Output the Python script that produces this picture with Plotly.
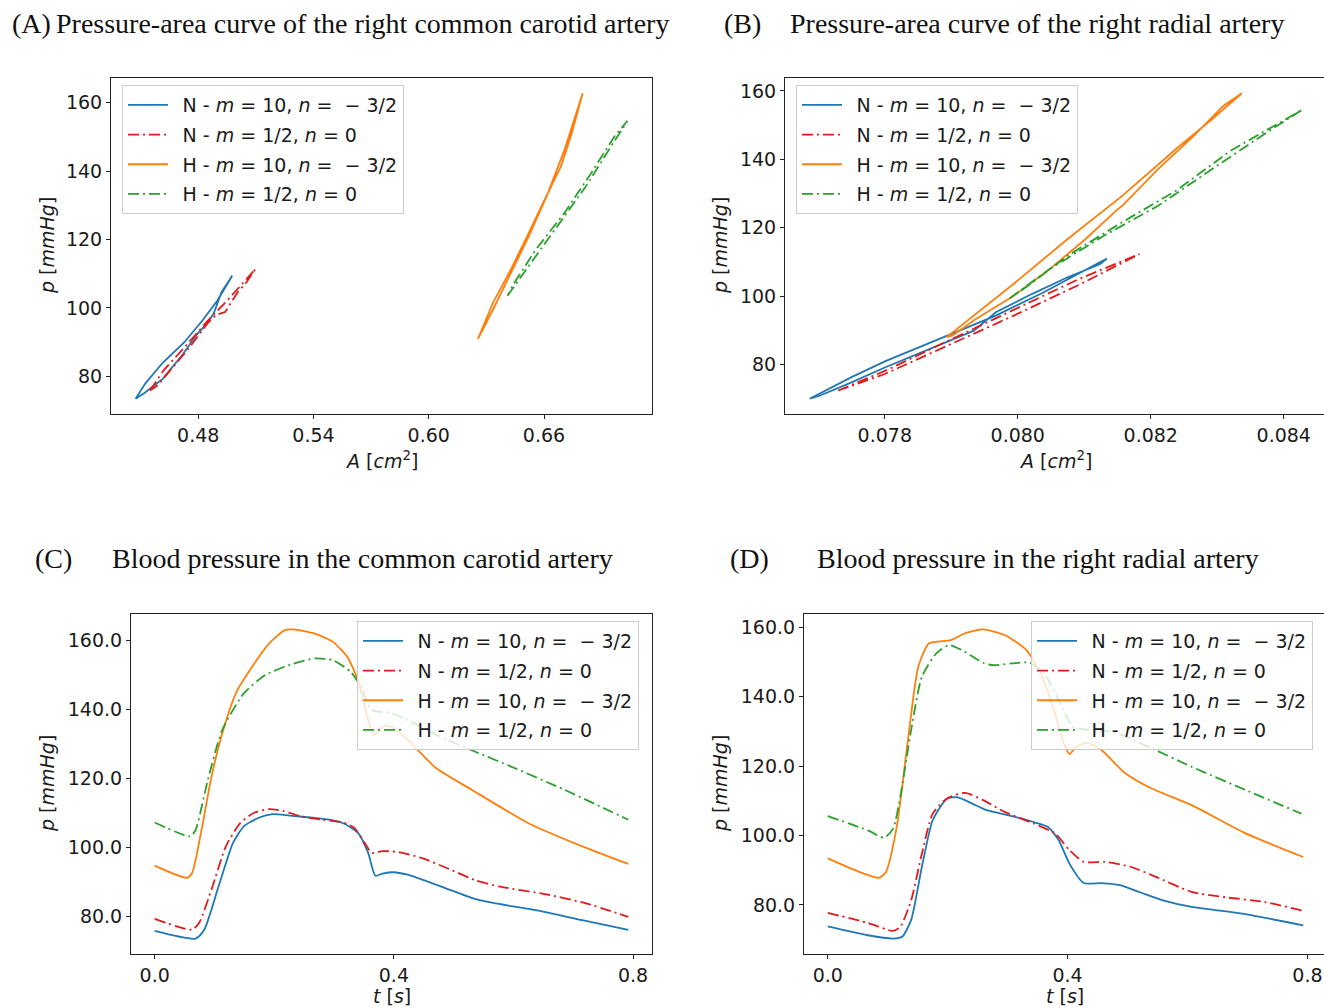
import plotly.graph_objects as go

OFF = 0
FW, FH = 1324, 1008

# ---------------- Panel C: carotid pressure vs time ----------------
c_blue_t = [0.0, 0.0685, 0.083, 0.107, 0.131, 0.149, 0.173, 0.197, 0.226, 0.268, 0.292, 0.316, 0.34, 0.357, 0.369, 0.381, 0.399, 0.423, 0.477, 0.53, 0.566, 0.637, 0.715, 0.792]
c_blue_p = [75.8, 73.6, 76.2, 88.8, 101.3, 106.1, 108.5, 109.6, 109.2, 108.5, 108.0, 106.9, 104.2, 98.4, 91.8, 92.4, 92.8, 92.1, 88.8, 85.4, 83.9, 81.8, 78.9, 76.1]

c_red_t = [0.0, 0.0625, 0.0745, 0.095, 0.119, 0.143, 0.167, 0.191, 0.214, 0.244, 0.28, 0.316, 0.334, 0.351, 0.363, 0.381, 0.405, 0.447, 0.494, 0.536, 0.578, 0.655, 0.721, 0.792]
c_red_p = [79.3, 76.2, 78.2, 87.8, 100.3, 107.0, 110.1, 111.1, 110.6, 109.0, 108.0, 107.2, 105.6, 101.3, 98.4, 98.9, 98.7, 96.9, 93.6, 90.5, 88.6, 86.4, 83.8, 79.9]

c_orange_t = [0.0, 0.0536, 0.0625, 0.0774, 0.095, 0.113, 0.137, 0.161, 0.191, 0.2174, 0.232, 0.268, 0.298, 0.322, 0.34, 0.354, 0.366, 0.381, 0.393, 0.417, 0.471, 0.53, 0.625, 0.715, 0.792]
c_orange_p = [94.7, 91.2, 92.6, 104.2, 120.5, 133.0, 145.1, 151.8, 159.0, 162.9, 163.1, 161.9, 159.5, 155.2, 148.4, 138.8, 132.6, 135.0, 135.1, 132.1, 122.9, 116.7, 107.0, 100.3, 95.2]

c_green_t = [0.0, 0.0596, 0.0685, 0.089, 0.113, 0.149, 0.185, 0.232, 0.268, 0.298, 0.328, 0.345, 0.363, 0.393, 0.423, 0.477, 0.536, 0.596, 0.685, 0.792]
c_green_p = [107.2, 103.2, 105.1, 119.6, 134.0, 144.6, 149.9, 153.2, 154.7, 154.2, 150.8, 146.5, 139.8, 139.0, 136.9, 132.1, 127.7, 123.4, 116.7, 108.0]

# ---------------- Panel D: radial pressure vs time ----------------
d_blue_t = [0.0, 0.067, 0.109, 0.124, 0.139, 0.157, 0.175, 0.199, 0.217, 0.241, 0.265, 0.307, 0.343, 0.367, 0.385, 0.403, 0.427, 0.457, 0.487, 0.523, 0.559, 0.607, 0.691, 0.793]
d_blue_p = [73.8, 71.25, 70.3, 70.8, 75.6, 91.0, 104.4, 110.7, 111.0, 109.2, 107.3, 105.6, 103.9, 102.5, 98.7, 91.9, 86.3, 86.3, 85.7, 83.5, 81.3, 79.4, 77.5, 74.1]

d_red_t = [0.0, 0.067, 0.109, 0.121, 0.139, 0.157, 0.175, 0.199, 0.229, 0.259, 0.295, 0.343, 0.379, 0.403, 0.427, 0.463, 0.505, 0.547, 0.607, 0.667, 0.727, 0.793]
d_red_p = [77.7, 74.8, 72.5, 73.7, 81.3, 94.8, 106.3, 110.7, 112.3, 110.2, 106.8, 103.5, 100.6, 95.8, 92.4, 92.4, 91.0, 88.1, 83.75, 82.1, 80.9, 78.3]

d_orange_t = [0.0, 0.085, 0.097, 0.115, 0.133, 0.151, 0.169, 0.205, 0.229, 0.259, 0.295, 0.331, 0.355, 0.379, 0.394, 0.403, 0.415, 0.433, 0.457, 0.493, 0.535, 0.607, 0.697, 0.793]
d_orange_p = [93.4, 87.8, 89.5, 102.5, 126.5, 148.7, 155.4, 156.3, 158.3, 159.4, 157.8, 153.5, 146.7, 135.2, 126.5, 123.5, 125.6, 126.7, 124.6, 118.4, 114.0, 108.75, 100.6, 93.8]

d_green_t = [0.0, 0.067, 0.094, 0.109, 0.121, 0.139, 0.157, 0.181, 0.202, 0.223, 0.259, 0.277, 0.307, 0.337, 0.361, 0.385, 0.409, 0.439, 0.475, 0.547, 0.607, 0.697, 0.79]
d_green_p = [105.6, 101.5, 99.4, 102.0, 111.2, 130.4, 145.8, 152.5, 154.9, 153.5, 149.8, 149.1, 149.6, 149.8, 146.7, 139.0, 131.3, 130.4, 129.9, 124.6, 119.8, 113.1, 106.3]

# ---------------- Panel A: carotid pressure-area loops ----------------
a_blue_A = [0.4474, 0.4525, 0.4615, 0.4728, 0.4824, 0.4900, 0.4977, 0.4921, 0.4880, 0.4837, 0.4794, 0.4720, 0.4615, 0.4520, 0.4474]
a_blue_p = [73.5, 78.0, 84.0, 90.0, 96.5, 102.2, 109.4, 104.6, 98.3, 94.9, 92.4, 86.5, 79.3, 75.2, 73.5]

a_red_A = [0.4549, 0.4620, 0.4730, 0.4845, 0.4958, 0.5051, 0.5098, 0.5051, 0.5005, 0.4940, 0.4893, 0.4847, 0.4755, 0.4665, 0.4590, 0.4549]
a_red_p = [75.9, 81.8, 88.6, 96.0, 102.6, 108.5, 111.4, 107.5, 104.6, 98.8, 98.0, 95.4, 88.5, 82.5, 77.5, 75.9]

a_orange_A = [0.6256, 0.6336, 0.6429, 0.6522, 0.6615, 0.6708, 0.6801, 0.6745, 0.6689, 0.6624, 0.6596, 0.6522, 0.6429, 0.6336, 0.6271, 0.6256]
a_orange_p = [91.0, 99.7, 110.4, 121.1, 132.8, 146.4, 162.7, 151.2, 141.5, 134.2, 130.8, 122.1, 111.4, 101.7, 92.9, 91.0]

a_green_A = [0.6410, 0.6522, 0.6671, 0.6820, 0.6950, 0.7034, 0.6969, 0.6848, 0.6708, 0.6559, 0.6447, 0.6410]
a_green_p = [103.6, 112.4, 124.0, 135.7, 147.3, 154.6, 150.3, 139.6, 127.9, 117.2, 107.5, 103.6]

# ---------------- Panel B: radial pressure-area loops ----------------
b_blue_A = [0.07687, 0.07750, 0.07801, 0.07858, 0.07902, 0.07967, 0.08037, 0.08092, 0.08134, 0.08124, 0.08075, 0.08021, 0.07967, 0.07934, 0.07902, 0.07858, 0.07801, 0.07750, 0.07701, 0.07687]
b_blue_p = [70.0, 76.3, 81.0, 85.5, 89.0, 94.3, 100.9, 106.5, 111.0, 109.4, 105.5, 100.6, 95.3, 89.9, 87.3, 83.6, 79.2, 74.8, 70.8, 70.0]

b_red_A = [0.07730, 0.07801, 0.07896, 0.07994, 0.08092, 0.08183, 0.08092, 0.07994, 0.07896, 0.07801, 0.07730]
b_red_p = [72.4, 78.2, 87.0, 96.1, 105.0, 112.3, 103.3, 94.3, 85.7, 77.3, 72.4]

b_orange_A = [0.07893, 0.07940, 0.07994, 0.08075, 0.08157, 0.08238, 0.08292, 0.08337, 0.08309, 0.08265, 0.08211, 0.08157, 0.08148, 0.08102, 0.08048, 0.07994, 0.07937, 0.07902, 0.07893]
b_orange_p = [88.0, 95.3, 103.6, 116.7, 129.3, 143.0, 151.7, 159.3, 155.6, 146.9, 137.1, 126.4, 125.0, 116.7, 107.9, 100.1, 93.3, 88.5, 88.0]

b_green_A = [0.07988, 0.08048, 0.08130, 0.08211, 0.08292, 0.08374, 0.08428, 0.08385, 0.08320, 0.08238, 0.08157, 0.08075, 0.08016, 0.07988]
b_green_p = [99.4, 107.9, 117.7, 126.4, 137.1, 147.8, 154.5, 149.8, 142.5, 130.8, 121.6, 111.8, 103.1, 99.4]

series_names = [
    "\u2002N - <i>m</i> = 10, <i>n</i> =  \u2212 3/2",
    "\u2002N - <i>m</i> = 1/2, <i>n</i> = 0",
    "\u2002H - <i>m</i> = 10, <i>n</i> =  \u2212 3/2",
    "\u2002H - <i>m</i> = 1/2, <i>n</i> = 0",
]
colors = ["#1f77b4", "#e31a1c", "#ff7f0e", "#2ca02c"]
dashes = ["solid", "11px,4px,2px,4px", "solid", "11px,4px,2px,4px"]

titles = [
    ("(A)", "Pressure-area curve of the right common carotid artery"),
    ("(B)", "Pressure-area curve of the right radial artery"),
    ("(C)", "Blood pressure in the common carotid artery"),
    ("(D)", "Blood pressure in the right radial artery"),
]

def fx(px):
    return (px - OFF) / FW

def fy(py):
    return 1 - (py - OFF) / FH

panels = {
    1: dict(x=(111, 652), y=(78, 414)),
    2: dict(x=(785, 1324), y=(78, 414)),
    3: dict(x=(131, 652), y=(614, 954)),
    4: dict(x=(804, 1324), y=(614, 954)),
}

fig = go.Figure()

panel_data = {
    1: [(a_blue_A, a_blue_p), (a_red_A, a_red_p), (a_orange_A, a_orange_p), (a_green_A, a_green_p)],
    2: [(b_blue_A, b_blue_p), (b_red_A, b_red_p), (b_orange_A, b_orange_p), (b_green_A, b_green_p)],
    3: [(c_blue_t, c_blue_p), (c_red_t, c_red_p), (c_orange_t, c_orange_p), (c_green_t, c_green_p)],
    4: [(d_blue_t, d_blue_p), (d_red_t, d_red_p), (d_orange_t, d_orange_p), (d_green_t, d_green_p)],
}

for k in range(1, 5):
    suffix = "" if k == 1 else str(k)
    for i, (xs, ys) in enumerate(panel_data[k]):
        fig.add_trace(go.Scatter(
            x=xs, y=ys, mode="lines",
            name=series_names[i],
            line=dict(color=colors[i], width=1.8, dash=dashes[i],
                      shape="spline" if k >= 3 else "linear",
                      smoothing=0.6 if k >= 3 else None),
            xaxis="x" + suffix, yaxis="y" + suffix,
            legend="legend" + suffix,
            legendgroup=f"g{k}_{i}",
        ))

def margin_range(vals, frac=0.05):
    lo, hi = min(vals), max(vals)
    span = hi - lo
    return [lo - frac * span, hi + frac * span]

TXT = "#1a1a1a"
axis_common = dict(
    showline=True, linecolor="#222222", linewidth=1,
    ticks="outside", ticklen=4, tickwidth=1, tickcolor="#222222",
    showgrid=False, zeroline=False,
    tickfont=dict(family="DejaVu Sans", size=19, color=TXT),
)

x_ticks = {
    1: ([0.48, 0.54, 0.60, 0.66], ".2f"),
    2: ([0.078, 0.080, 0.082, 0.084], ".3f"),
    3: ([0.0, 0.4, 0.8], ".1f"),
    4: ([0.0, 0.4, 0.8], ".1f"),
}
y_ticks = {
    1: ([80, 100, 120, 140, 160], "d"),
    2: ([80, 100, 120, 140, 160], "d"),
    3: ([80, 100, 120, 140, 160], ".1f"),
    4: ([80, 100, 120, 140, 160], ".1f"),
}

layout = dict(
    width=FW, height=FH, autosize=False,
    margin=dict(l=0, r=0, t=0, b=0),
    paper_bgcolor="white", plot_bgcolor="white",
    showlegend=True,
)

for k in range(1, 5):
    suffix = "" if k == 1 else str(k)
    px0, px1 = panels[k]["x"]
    py0, py1 = panels[k]["y"]
    allx = [v for xs, _ in panel_data[k] for v in xs]
    ally = [v for _, ys in panel_data[k] for v in ys]
    xr = margin_range(allx)
    yr = margin_range(ally)
    clipped = k in (2, 4)
    if clipped:
        frac_visible = (px1 - px0) / ((px1 - px0) + 3)
        xr = [xr[0], xr[0] + (xr[1] - xr[0]) * frac_visible]
    xa = dict(axis_common)
    xa.update(domain=[fx(px0), fx(px1)], range=xr,
              tickvals=x_ticks[k][0], tickformat=x_ticks[k][1],
              anchor="y" + suffix, mirror=True, ticklabeloverflow="allow")
    ya = dict(axis_common)
    ya.update(domain=[fy(py1), fy(py0)], range=yr,
              tickvals=y_ticks[k][0], tickformat=y_ticks[k][1],
              anchor="x" + suffix, mirror=not clipped)
    layout["xaxis" + suffix] = xa
    layout["yaxis" + suffix] = ya

legend_pos = {1: (122, 85), 2: (796, 85), 3: (357, 621), 4: (1031, 621)}
for k in range(1, 5):
    suffix = "" if k == 1 else str(k)
    lx, ly = legend_pos[k]
    layout["legend" + suffix] = dict(
        x=fx(lx), y=fy(ly), xanchor="left", yanchor="top",
        bgcolor="rgba(255,255,255,0.8)", bordercolor="#cccccc", borderwidth=1,
        font=dict(family="DejaVu Sans", size=19, color=TXT),
        tracegroupgap=2, itemwidth=40, traceorder="grouped",
    )

fig.update_layout(**layout)

title_pos = {
    1: ((10, 23), (54, 23)),
    2: ((722, 23), (788, 23)),
    3: ((33, 558), (110, 558)),
    4: ((728, 558), (815, 558)),
}
ann = []
for k in range(1, 5):
    (lx, ly), (tx, ty) = title_pos[k]
    lab, txt = titles[k - 1]
    for s, x, y in ((lab, lx, ly), (txt, tx, ty)):
        ann.append(dict(text=s, x=fx(x), y=fy(y), xref="paper", yref="paper",
                        xanchor="left", yanchor="middle", showarrow=False,
                        font=dict(family="Liberation Serif", size=28, color="#111111")))

xlab = {1: ("<i>A</i> [<i>cm</i><sup>2</sup>]", 381, 460),
        2: ("<i>A</i> [<i>cm</i><sup>2</sup>]", 1055, 460),
        3: ("<i>t</i> [<i>s</i>]", 392, 996),
        4: ("<i>t</i> [<i>s</i>]", 1065, 996)}
ylab = {1: (47, 246), 2: (720, 246), 3: (47, 784), 4: (720, 784)}
for k in range(1, 5):
    t, x, y = xlab[k]
    ann.append(dict(text=t, x=fx(x), y=fy(y), xref="paper", yref="paper",
                    xanchor="center", yanchor="middle", showarrow=False,
                    font=dict(family="DejaVu Sans", size=19, color=TXT)))
    x, y = ylab[k]
    ann.append(dict(text="<i>p</i> [<i>mmHg</i>]", x=fx(x), y=fy(y), xref="paper", yref="paper",
                    xanchor="center", yanchor="middle", showarrow=False, textangle=-90,
                    font=dict(family="DejaVu Sans", size=19, color=TXT)))

fig.update_layout(annotations=ann)

fig.write_html(
    "out.html",
    config={"displayModeBar": False},
    post_script="document.body.style.margin='0px';document.body.style.overflow='hidden';",
)
